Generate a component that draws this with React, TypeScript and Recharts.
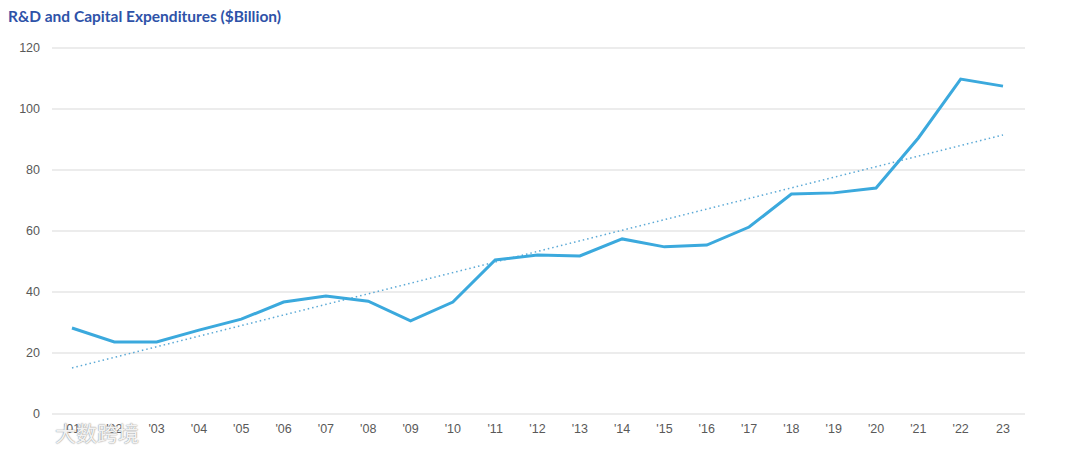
import React from 'react';
import { LineChart, Line, XAxis, YAxis, CartesianGrid } from 'recharts';

// years as labelled on the x axis
const years = [
  "'01", "'02", "'03", "'04", "'05", "'06", "'07", "'08", "'09", "'10", "'11", "'12",
  "'13", "'14", "'15", "'16", "'17", "'18", "'19", "'20", "'21", "'22", '23',
];

// R&D + capex, $B
const spend = [
  28.2, 23.6, 23.6, 27.5, 31.1, 36.7, 38.7, 37.0, 30.5, 36.7, 50.5, 52.1,
  51.8, 57.4, 54.8, 55.4, 61.3, 72.1, 72.5, 74.1, 90.5, 109.8, 107.5,
];

// dotted trendline: only its two end values are read, the rest is left empty
const trendStart = 15.1;
const trendEnd = 91.5;

const yTicks = [0, 20, 40, 60, 80, 100, 120];

const data = years.map((year, i) => ({
  year,
  spend: spend[i],
  trend: i === 0 ? trendStart : i === years.length - 1 ? trendEnd : null,
}));

const tickStyle = { fill: '#595959', fontSize: 12.5, fontFamily: 'Liberation Sans, Arial, sans-serif' };

export default function App() {
  return (
    <div style={{ position: 'absolute', left: 0, top: 0, width: 1080, height: 455, background: '#fff' }}>
      <div
        style={{
          position: 'absolute',
          left: 8,
          top: 7,
          fontFamily: 'Lato, "Open Sans", sans-serif',
          fontWeight: 700,
          fontSize: 15.5,
          color: '#2E52A8',
        }}
      >
        R&amp;D and Capital Expenditures ($Billion)
      </div>

      <LineChart width={1080} height={455} data={data} margin={{ top: 48, right: 55, bottom: 11, left: 8 }}>
        <CartesianGrid vertical={false} stroke="#d9d9d9" />
        <XAxis
          dataKey="year"
          axisLine={false}
          tickLine={false}
          tick={tickStyle}
          tickMargin={4}
          padding={{ left: 20, right: 22 }}
          interval={0}
          height={30}
        />
        <YAxis
          domain={[0, 120]}
          ticks={yTicks}
          axisLine={false}
          tickLine={false}
          tick={tickStyle}
          tickMargin={6}
          width={44}
        />
        <Line
          dataKey="trend"
          connectNulls
          stroke="#5BA9D6"
          strokeWidth={1.5}
          strokeDasharray="1.5 3"
          dot={false}
          isAnimationActive={false}
        />
        <Line
          dataKey="spend"
          stroke="#3BA9DD"
          strokeWidth={3}
          dot={false}
          isAnimationActive={false}
        />
      </LineChart>

      <div
        style={{
          position: 'absolute',
          left: 55,
          top: 417,
          fontFamily: '"Noto Sans CJK SC", sans-serif',
          fontSize: 21,
          color: 'rgba(255,255,255,0.9)',
          textShadow: '0 0 1.5px #999, 0 0 1px #999',
          pointerEvents: 'none',
        }}
      >
        大数跨境
      </div>
    </div>
  );
}
